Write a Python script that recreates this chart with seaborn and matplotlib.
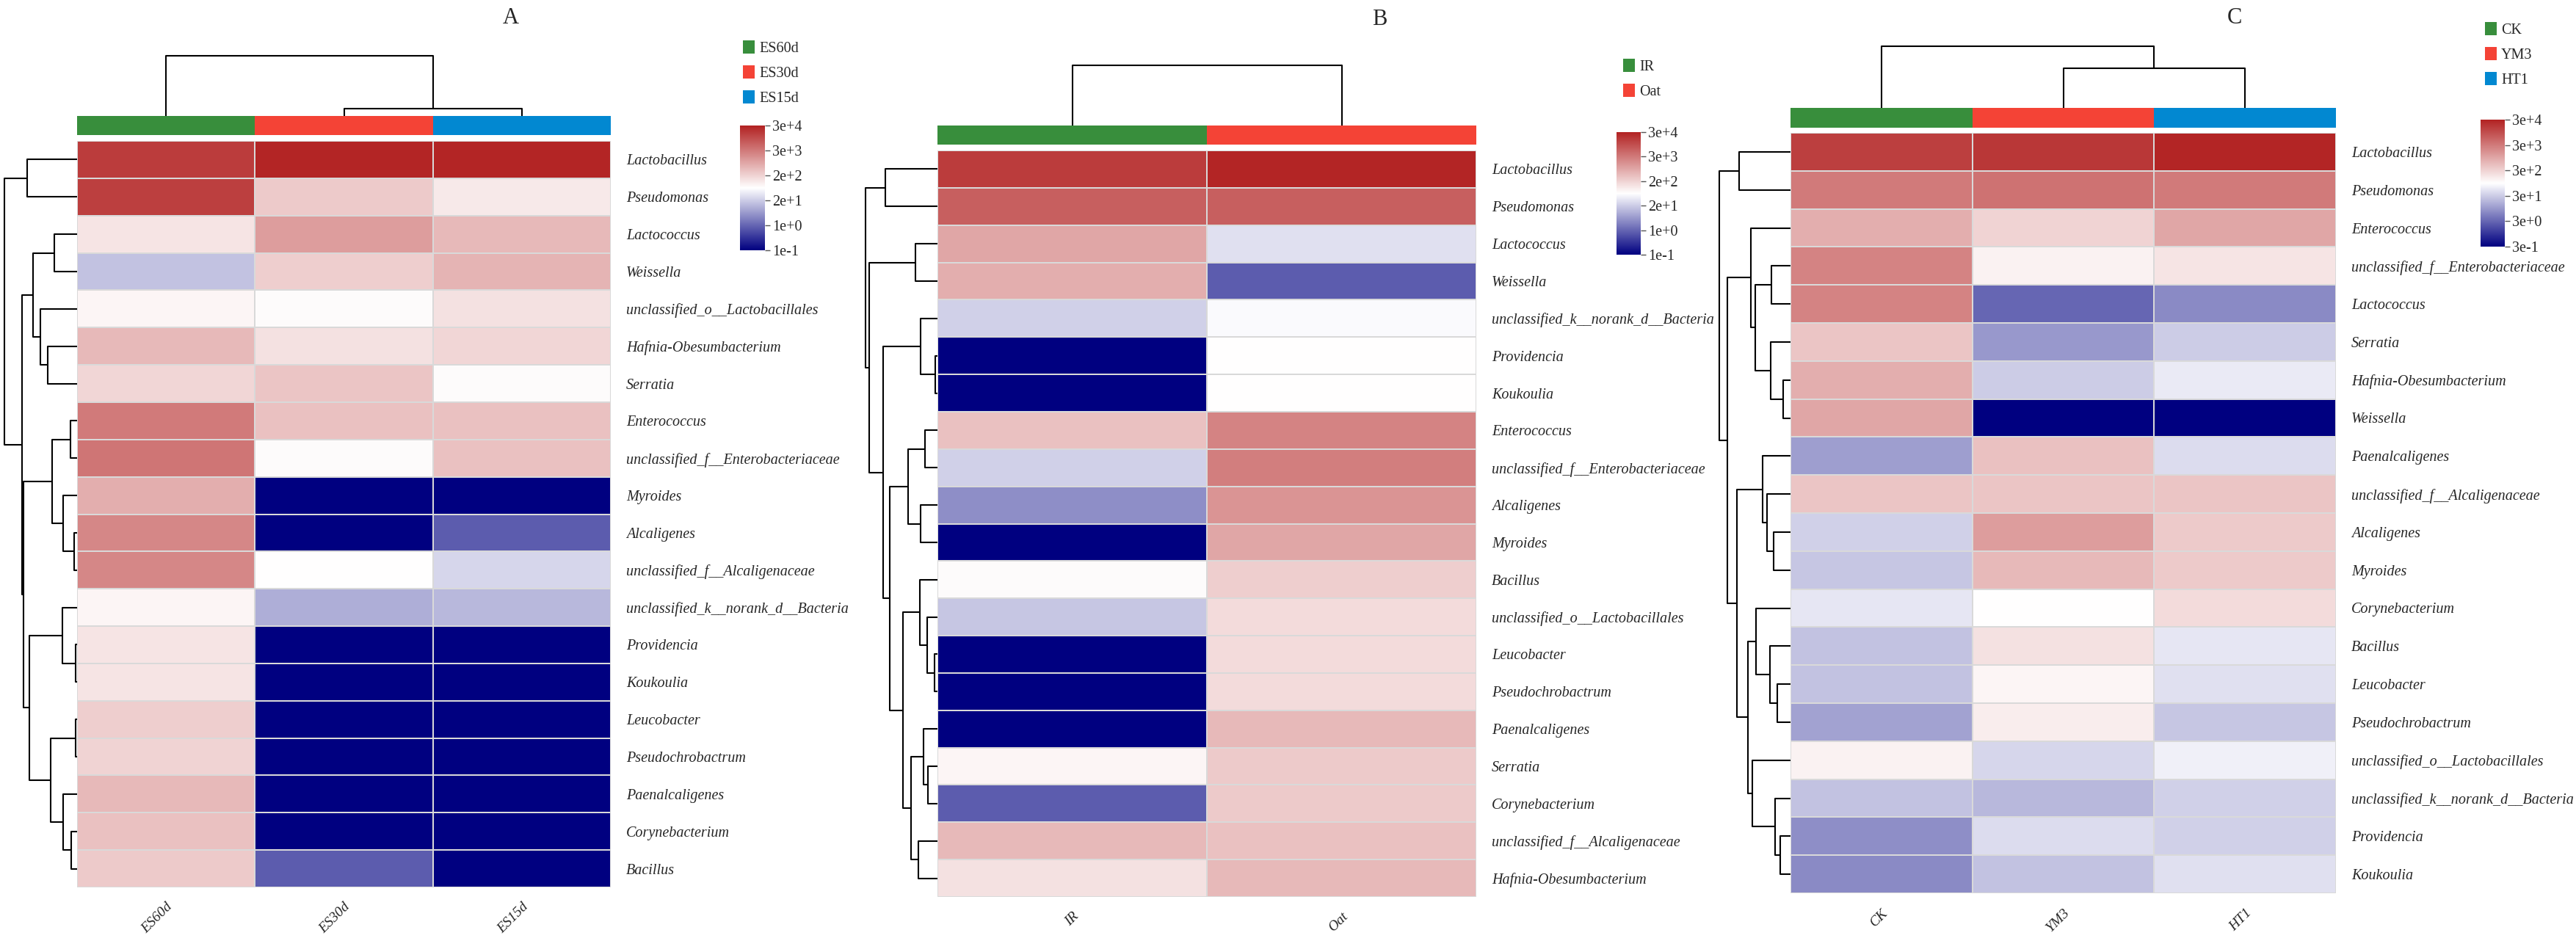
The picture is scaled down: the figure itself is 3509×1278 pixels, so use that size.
import numpy as np
import pandas as pd
import matplotlib
matplotlib.use("Agg")
import matplotlib.pyplot as plt
from matplotlib.colors import LinearSegmentedColormap, ListedColormap
from matplotlib.patches import Patch
import seaborn as sns

sns.set_theme(style="white")
plt.rcParams["font.family"] = ["Liberation Serif", "DejaVu Serif"]

W, H = 3509, 1278

# ---------------- data (colour-scale position, 0 = bottom of bar, 1 = top) ----------------
a_cols = ["ES60d", "ES30d", "ES15d"]
a_rows = ["Lactobacillus", "Pseudomonas", "Lactococcus", "Weissella",
          "unclassified_o__Lactobacillales", "Hafnia-Obesumbacterium", "Serratia",
          "Enterococcus", "unclassified_f__Enterobacteriaceae", "Myroides", "Alcaligenes",
          "unclassified_f__Alcaligenaceae", "unclassified_k__norank_d__Bacteria",
          "Providencia", "Koukoulia", "Leucobacter", "Pseudochrobactrum",
          "Paenalcaligenes", "Corynebacterium", "Bacillus"]
a_vals = [[0.94, 0.99, 0.99], [0.93, 0.62, 0.55], [0.56, 0.72, 0.66], [0.38, 0.61, 0.67],
          [0.52, 0.51, 0.57], [0.66, 0.57, 0.59], [0.59, 0.63, 0.51], [0.80, 0.64, 0.64],
          [0.81, 0.51, 0.64], [0.68, 0.00, 0.00], [0.77, 0.00, 0.18], [0.77, 0.50, 0.42],
          [0.52, 0.34, 0.36], [0.56, 0.00, 0.00], [0.56, 0.00, 0.00], [0.61, 0.00, 0.00],
          [0.60, 0.00, 0.00], [0.66, 0.00, 0.00], [0.64, 0.00, 0.00], [0.62, 0.18, 0.00]]
a_ticks = ["1e-1", "1e+0", "2e+1", "2e+2", "3e+3", "3e+4"]
a_colors = ["#388E3C", "#F44336", "#0288D1"]
a_row_tree = (1.0, (0.69, 0, 1),
              (0.76, (0.61, (0.31, 2, 3), (0.51, 4, (0.40, 5, 6))),
               (0.74, (0.34, (0.09, 7, 8), (0.19, 9, (0.04, 10, 11))),
                (0.66, (0.20, 12, (0.02, 13, 14)),
                 (0.36, (0.02, 15, 16), (0.19, 17, (0.08, 18, 19)))))))
a_col_tree = (1.0, 0, (0.12, 1, 2))

b_cols = ["IR", "Oat"]
b_rows = ["Lactobacillus", "Pseudomonas", "Lactococcus", "Weissella",
          "unclassified_k__norank_d__Bacteria", "Providencia", "Koukoulia", "Enterococcus",
          "unclassified_f__Enterobacteriaceae", "Alcaligenes", "Myroides", "Bacillus",
          "unclassified_o__Lactobacillales", "Leucobacter", "Pseudochrobactrum",
          "Paenalcaligenes", "Serratia", "Corynebacterium", "unclassified_f__Alcaligenaceae",
          "Hafnia-Obesumbacterium"]
b_vals = [[0.94, 0.99], [0.86, 0.86], [0.70, 0.44], [0.68, 0.18], [0.41, 0.49],
          [0.00, 0.50], [0.00, 0.50], [0.64, 0.78], [0.41, 0.79], [0.28, 0.74],
          [0.00, 0.70], [0.51, 0.61], [0.39, 0.58], [0.00, 0.58], [0.00, 0.58],
          [0.00, 0.66], [0.52, 0.62], [0.18, 0.62], [0.66, 0.64], [0.57, 0.66]]
b_ticks = ["1e-1", "1e+0", "2e+1", "2e+2", "3e+3", "3e+4"]
b_colors = ["#388E3C", "#F44336"]
b_row_tree = (1.0, (0.72, 0, 1),
              (0.95, (0.31, 2, 3),
               (0.76, (0.23, 4, (0.03, 5, 6)),
                (0.66, (0.41, (0.17, 7, 8), (0.23, 9, 10)),
                 (0.48, (0.24, 11, (0.14, 12, (0.04, 13, 14))),
                  (0.37, (0.19, 15, (0.13, 16, 17)), (0.27, 18, 19)))))))
b_col_tree = (1.0, 0, 1)

c_cols = ["CK", "YM3", "HT1"]
c_rows = ["Lactobacillus", "Pseudomonas", "Enterococcus", "unclassified_f__Enterobacteriaceae",
          "Lactococcus", "Serratia", "Hafnia-Obesumbacterium", "Weissella", "Paenalcaligenes",
          "unclassified_f__Alcaligenaceae", "Alcaligenes", "Myroides", "Corynebacterium",
          "Bacillus", "Leucobacter", "Pseudochrobactrum", "unclassified_o__Lactobacillales",
          "unclassified_k__norank_d__Bacteria", "Providencia", "Koukoulia"]
c_vals = [[0.93, 0.95, 0.99], [0.80, 0.82, 0.80], [0.68, 0.60, 0.70], [0.78, 0.53, 0.56],
          [0.78, 0.20, 0.27], [0.63, 0.30, 0.40], [0.68, 0.40, 0.46], [0.70, 0.00, 0.00],
          [0.31, 0.64, 0.43], [0.63, 0.63, 0.63], [0.41, 0.72, 0.62], [0.39, 0.66, 0.62],
          [0.45, 0.50, 0.58], [0.38, 0.57, 0.45], [0.38, 0.52, 0.44], [0.32, 0.54, 0.39],
          [0.53, 0.42, 0.47], [0.38, 0.36, 0.41], [0.28, 0.43, 0.41], [0.27, 0.38, 0.44]]
c_ticks = ["3e-1", "3e+0", "3e+1", "3e+2", "3e+3", "3e+4"]
c_colors = ["#388E3C", "#F44336", "#0288D1"]
c_row_tree = (1.0, (0.72, 0, 1),
              (0.89, (0.56, 2, (0.49, (0.27, 3, 4), (0.28, 5, (0.10, 6, 7)))),
               (0.75, (0.39, 8, (0.33, 9, (0.24, 10, 11))),
                (0.60, (0.48, 12, (0.29, 13, (0.19, 14, 15))),
                 (0.54, 16, (0.22, 17, (0.14, 18, 19)))))))
c_col_tree = (1.0, 0, (0.64, 1, 2))

cmap = LinearSegmentedColormap.from_list("nwf", ["#000080", "#FFFFFF", "#B22222"])

# pixel boxes (x0, y0, x1, y1)
panels = [
    dict(title="A", rows=a_rows, cols=a_cols, vals=a_vals, ticks=a_ticks, colors=a_colors,
         rtree=a_row_tree, ctree=a_col_tree,
         heat=(105, 192, 832, 1209), group=(105, 158, 832, 184), topd=(105, 76, 832, 158),
         rowd=(6, 192, 105, 1209), cbar=(1008, 171, 1042, 341), tpos=(696, 24), leg=(1012, 55)),
    dict(title="B", rows=b_rows, cols=b_cols, vals=b_vals, ticks=b_ticks, colors=b_colors,
         rtree=b_row_tree, ctree=b_col_tree,
         heat=(1277, 205, 2011, 1222), group=(1277, 171, 2011, 197), topd=(1277, 89, 2011, 171),
         rowd=(1179, 205, 1277, 1222), cbar=(2202, 180, 2235, 347), tpos=(1879, 27), leg=(2211, 80)),
    dict(title="C", rows=c_rows, cols=c_cols, vals=c_vals, ticks=c_ticks, colors=c_colors,
         rtree=c_row_tree, ctree=c_col_tree,
         heat=(2439, 181, 3182, 1217), group=(2439, 147, 3182, 174), topd=(2439, 63, 3182, 147),
         rowd=(2342, 181, 2439, 1217), cbar=(3379, 163, 3412, 336), tpos=(3044, 25), leg=(3385, 30)),
]


def px_axes(fig, box):
    x0, y0, x1, y1 = box
    return fig.add_axes([x0 / W, 1 - y1 / H, (x1 - x0) / W, (y1 - y0) / H])


def tree_segments(node, segs):
    if isinstance(node, int):
        return node + 0.5, 0.0
    h, left, right = node
    p1, h1 = tree_segments(left, segs)
    p2, h2 = tree_segments(right, segs)
    segs.append((p1, h1, p2, h2, h))
    return (p1 + p2) / 2, h


fig = plt.figure(figsize=(W / 100, H / 100), dpi=100)
fs = 14.5

for p in panels:
    df = pd.DataFrame(p["vals"], index=p["rows"], columns=p["cols"])
    n = len(p["cols"])

    hax = px_axes(fig, p["heat"])
    cax = px_axes(fig, p["cbar"])
    sns.heatmap(df, ax=hax, cmap=cmap, vmin=0, vmax=1, cbar_ax=cax,
                linewidths=1.2, linecolor="#d9d9d9", xticklabels=True, yticklabels=True)
    hax.tick_params(axis="y", left=False, right=False, labelleft=False, labelright=True,
                    pad=9, labelsize=fs)
    plt.setp(hax.get_yticklabels(), rotation=0, style="italic")
    hax.set_xticklabels(p["cols"], rotation=45, ha="right", va="top", rotation_mode="anchor",
                        style="italic", fontsize=14)
    hax.tick_params(axis="x", bottom=False, pad=7)
    hax.set_xlabel("")
    hax.set_ylabel("")

    cb = hax.collections[0].colorbar
    cb.set_ticks(np.linspace(0, 1, 6))
    cb.set_ticklabels(p["ticks"])
    cb.outline.set_visible(False)
    cax.tick_params(right=True, length=5, width=1, color="#555555", labelsize=fs, pad=2)

    # group colour bar
    gax = px_axes(fig, p["group"])
    sns.heatmap(np.arange(n).reshape(1, -1), ax=gax, cmap=ListedColormap(p["colors"]),
                vmin=-0.5, vmax=n - 0.5, cbar=False, xticklabels=False, yticklabels=False)

    # column dendrogram
    tax = px_axes(fig, p["topd"])
    segs = []
    tree_segments(p["ctree"], segs)
    for p1, h1, p2, h2, h in segs:
        tax.plot([p1, p1, p2, p2], [h1, h, h, h2], color="black", lw=1.5,
                 solid_capstyle="butt", clip_on=False)
    tax.set_xlim(0, n)
    tax.set_ylim(0, 1)
    tax.axis("off")

    # row dendrogram
    rax = px_axes(fig, p["rowd"])
    segs = []
    tree_segments(p["rtree"], segs)
    for p1, h1, p2, h2, h in segs:
        rax.plot([h1, h, h, h2], [p1, p1, p2, p2], color="black", lw=1.5,
                 solid_capstyle="butt", clip_on=False)
    rax.set_xlim(1, 0)
    rax.set_ylim(len(p["rows"]), 0)
    rax.axis("off")

    # title
    fig.text(p["tpos"][0] / W, 1 - p["tpos"][1] / H, p["title"], ha="center", va="center",
             fontsize=22)

    # group legend
    handles = [Patch(facecolor=c, edgecolor="none", label=l) for c, l in zip(p["colors"], p["cols"])]
    fig.legend(handles=handles, loc="upper left",
               bbox_to_anchor=(p["leg"][0] / W, 1 - p["leg"][1] / H),
               frameon=False, fontsize=fs, handlelength=0.8, handleheight=1.0,
               handletextpad=0.3, labelspacing=0.65, borderpad=0, borderaxespad=0)

fig.savefig("out.png", dpi=100)
plt.close(fig)
